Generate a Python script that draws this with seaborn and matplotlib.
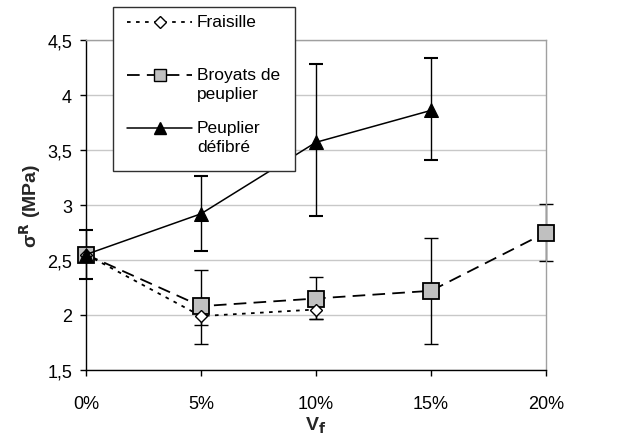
import numpy as np
import pandas as pd
import matplotlib
matplotlib.use("Agg")
import matplotlib.pyplot as plt
import seaborn as sns
from matplotlib.lines import Line2D
from matplotlib.patches import Rectangle

sns.set_theme(style="white")
plt.rcParams['font.family'] = ['Liberation Sans', 'DejaVu Sans']

vf = [0, 5, 10, 15, 20]
xtick_labels = ["0%", "5%", "10%", "15%", "20%"]

fraisille_x = [0, 5, 10]
fraisille_y = [2.55, 1.99, 2.05]
fraisille_err = [0.0, 0.08, 0.09]

broyats_x = [0, 5, 10, 15, 20]
broyats_y = [2.55, 2.08, 2.15, 2.22, 2.75]
broyats_lo = [0.0, 0.34, 0.19, 0.48, 0.26]
broyats_hi = [0.0, 0.33, 0.20, 0.48, 0.26]

peuplier_x = [0, 5, 10, 15]
peuplier_y = [2.55, 2.92, 3.57, 3.86]
peuplier_lo = [0.22, 0.34, 0.67, 0.45]
peuplier_hi = [0.22, 0.34, 0.71, 0.48]

labels = ["Fraisille", "Broyats de\npeuplier", "Peuplier\ndéfibré"]

W, H = 642, 435
fig = plt.figure(figsize=(W / 100, H / 100), dpi=100)
ax = fig.add_axes([86 / W, 1 - 371 / H, 460 / W, 330 / H])

ax.errorbar(fraisille_x, fraisille_y, yerr=fraisille_err, fmt='none', ecolor='black', elinewidth=1, capsize=5, capthick=1, zorder=2)
ax.errorbar(broyats_x, broyats_y, yerr=[broyats_lo, broyats_hi], fmt='none', ecolor='black', elinewidth=1, capsize=5, capthick=1, zorder=2)
ax.errorbar(peuplier_x, peuplier_y, yerr=[peuplier_lo, peuplier_hi], fmt='none', ecolor='black', elinewidth=1, capsize=5, capthick=1.5, zorder=2)

dot_ls = (0, (2, 3))
dash_ls = (0, (7, 4))
sns.lineplot(x=fraisille_x, y=fraisille_y, ax=ax, color='black', linestyle=dot_ls, linewidth=1.3,
             marker='D', markersize=6, markerfacecolor='white', markeredgecolor='black', markeredgewidth=1, zorder=4)
sns.lineplot(x=broyats_x, y=broyats_y, ax=ax, color='black', linestyle=dash_ls, linewidth=1.3,
             marker='s', markersize=11, markerfacecolor='#c0c0c0', markeredgecolor='black', markeredgewidth=1.3, zorder=3)
sns.lineplot(x=peuplier_x, y=peuplier_y, ax=ax, color='black', linestyle='-', linewidth=1.1,
             marker='^', markersize=10, markerfacecolor='black', markeredgecolor='black', zorder=5)

ax.set_xlim(0, 20)
ax.set_ylim(1.5, 4.5)
ax.set_xticks(vf)
ax.set_xticklabels(xtick_labels)
ax.set_yticks([1.5, 2, 2.5, 3, 3.5, 4, 4.5])
ax.set_yticklabels(["1,5", "2", "2,5", "3", "3,5", "4", "4,5"])
ax.tick_params(axis='both', labelsize=13, colors='black', direction='out', length=4, width=1,
               left=True, bottom=True)
ax.tick_params(axis='x', pad=14)
ax.tick_params(axis='y', pad=6)
ax.yaxis.grid(True, color='#c8c8c8', linewidth=1)
ax.xaxis.grid(False)
for s in ['left', 'bottom']:
    ax.spines[s].set_color('black')
    ax.spines[s].set_linewidth(1)
for s in ['top', 'right']:
    ax.spines[s].set_color('#a0a0a0')
    ax.spines[s].set_linewidth(1)
for ln in ax.lines:
    ln.set_clip_on(False)
for c in ax.collections:
    c.set_clip_on(False)

ax.set_xlabel("V$_\\mathbf{f}$", fontsize=14, fontweight='bold', labelpad=2)
ax.set_ylabel("σ$^\\mathbf{R}$ (MPa)", fontsize=14, fontweight='bold', labelpad=3)

def fx(px):
    return px / W
def fy(py):
    return 1 - py / H

fig.patches.append(Rectangle((fx(113), fy(172)), fx(295) - fx(113), fy(8) - fy(172),
                             transform=fig.transFigure, facecolor='white', edgecolor='#303030',
                             linewidth=1, zorder=10))
styles = [
    dict(linestyle=dot_ls, linewidth=1.3, marker='D', markersize=6, markerfacecolor='white'),
    dict(linestyle=dash_ls, linewidth=1.3, marker='s', markersize=9, markerfacecolor='#c0c0c0'),
    dict(linestyle='-', linewidth=1.1, marker='^', markersize=9, markerfacecolor='black'),
]
rows = [23, 76, 129]
for lab, st, ry in zip(labels, styles, rows):
    fig.add_artist(Line2D([fx(127), fx(192)], [fy(ry), fy(ry)], color='black', zorder=11,
                          linestyle=st['linestyle'], linewidth=st['linewidth'],
                          transform=fig.transFigure))
    fig.add_artist(Line2D([fx(160)], [fy(ry)], color='black', linestyle='none', marker=st['marker'],
                          markersize=st['markersize'], markerfacecolor=st['markerfacecolor'],
                          markeredgecolor='black', zorder=12, transform=fig.transFigure))
    fig.text(fx(197), fy(ry - 8), lab, fontsize=12.5, color='black', ha='left', va='top',
             linespacing=1.35, zorder=12)

fig.savefig("out.png", dpi=100)
